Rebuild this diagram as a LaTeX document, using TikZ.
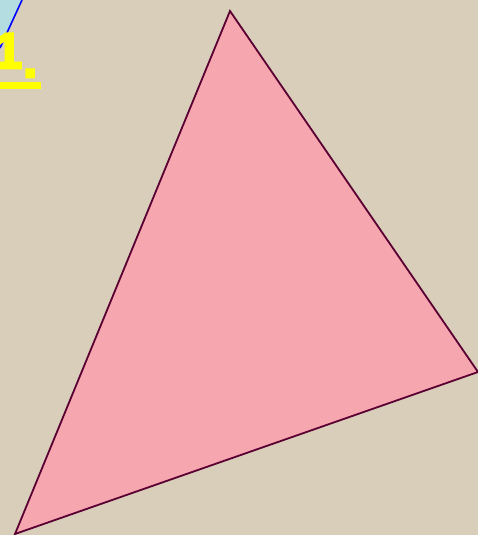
\documentclass[tikz,border=0pt]{standalone}
\usepackage{fontspec}
\setsansfont{Liberation Sans}
\newfontfamily\heavysans[FakeBold=5]{Liberation Sans Bold}
\definecolor{bgbeige}{HTML}{D8CEBA}
\definecolor{trifill}{HTML}{F6A6AF}
\definecolor{triedge}{HTML}{5A0032}
\definecolor{lblue}{HTML}{B3DDE0}
\definecolor{lyellow}{HTML}{FFFF00}
\tikzset{
  tri/.style={fill=trifill, draw=triedge, line width=1.8pt, line join=miter},
  numlabel/.style={text=lyellow, font=\heavysans\fontsize{50}{50}\selectfont, inner sep=0pt, anchor=base west}
}
\begin{document}
\begin{tikzpicture}[x=1pt,y=-1pt]
\useasboundingbox (0,0) rectangle (478,535);
\begin{scope}
\clip (0,0) rectangle (478,535);
\fill[bgbeige] (0,0) rectangle (478,535);
\coordinate (b1) at (22,0);
\coordinate (b2) at (0,48);
\fill[lblue] (0,0) -- (b1) -- (b2) -- cycle;
\draw[blue, line width=1.6pt] (b1) -- (b2);
\node[numlabel] (num) at (-6,68) {1};
\node[numlabel] (dot) at (23,77) {.};
\fill[lyellow] (0,82) rectangle (41,89);
\coordinate (A) at (230,11);
\coordinate (B) at (478,372);
\coordinate (C) at (15,534);
\path[tri] (A) -- (B) -- (C) -- cycle;
\end{scope}
\end{tikzpicture}
\end{document}
